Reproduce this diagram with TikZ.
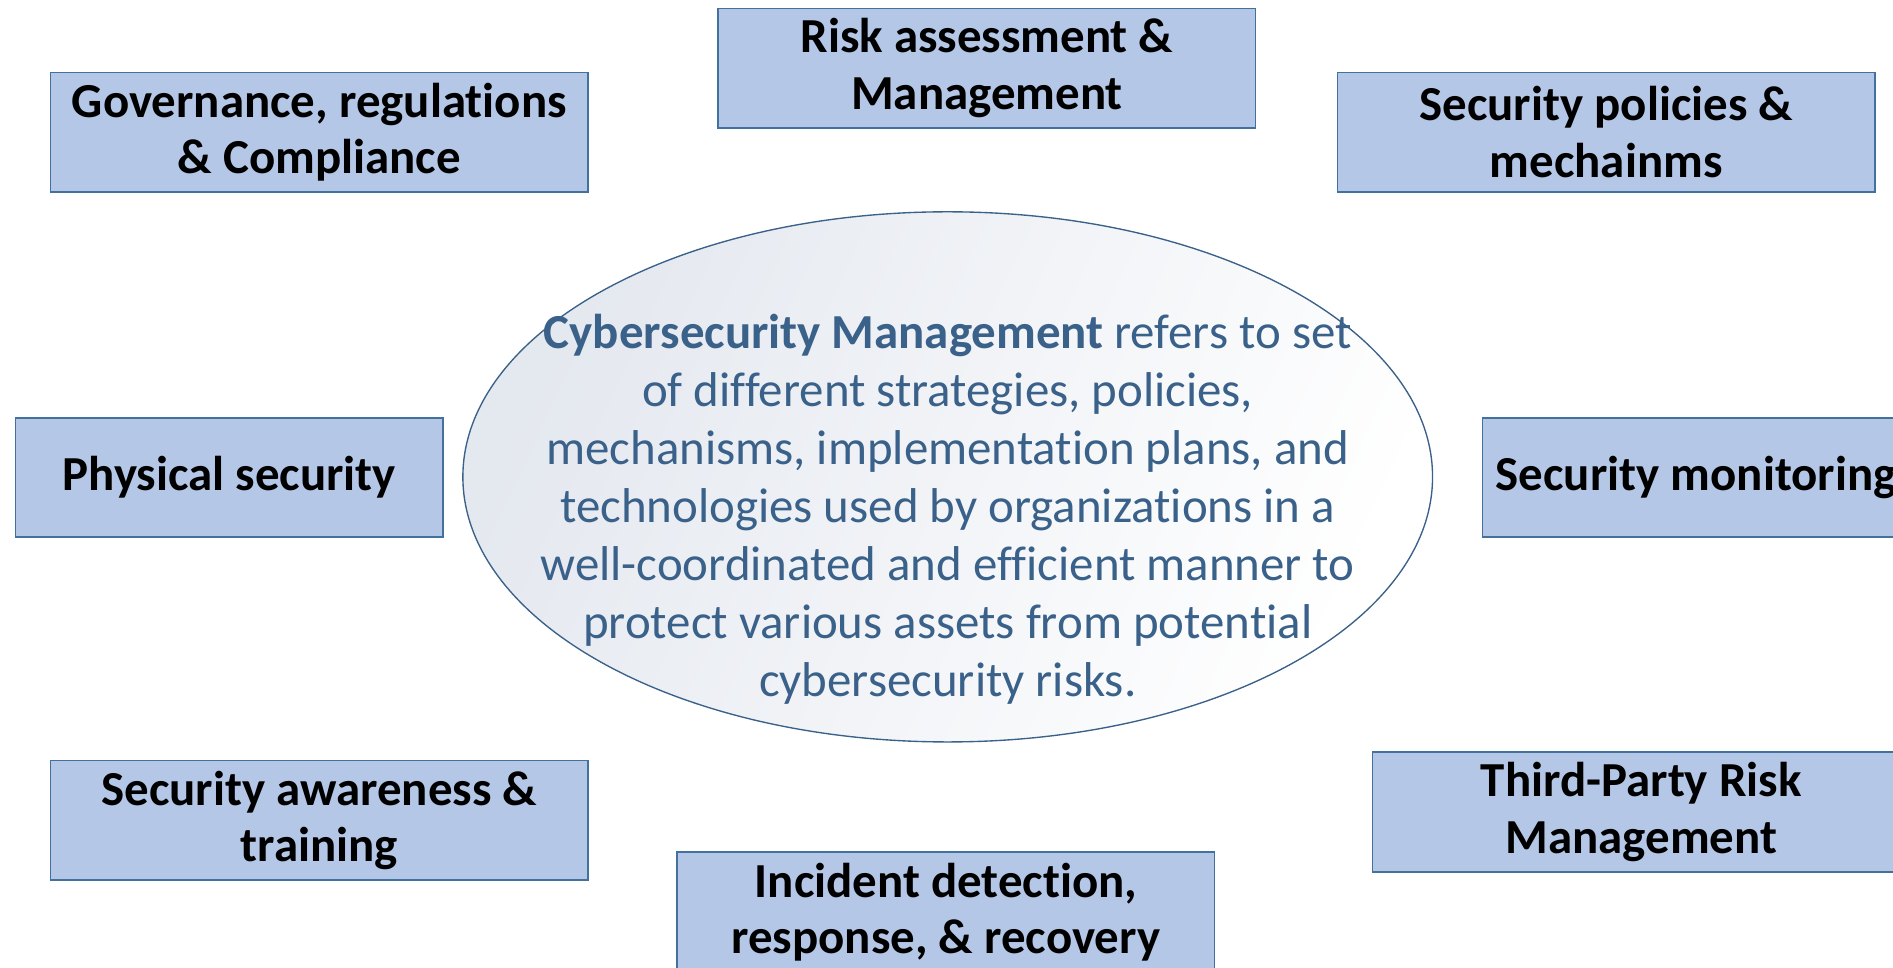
\documentclass[tikz,border=0pt]{standalone}
\usepackage{fontspec}
\setmainfont{Carlito}[Ligatures=NoCommon]
\usepackage{tikz}
\usetikzlibrary{shapes.geometric}

\definecolor{areaFill}{HTML}{B4C7E7}
\definecolor{areaLine}{HTML}{41719C}
\definecolor{coreInk}{HTML}{3A6189}
\definecolor{coreShade}{HTML}{E4E8EF}

\begin{document}
\begin{tikzpicture}[x=0.025cm, y=-0.025cm,
		area/.style={rectangle, draw=areaLine, line width=1pt, fill=areaFill,
			minimum width=11.125cm, minimum height=2.475cm, inner sep=0pt,
			align=center, font=\fontsize{28.8}{33.4}\selectfont\bfseries},
		narrowArea/.style={area, minimum width=8.85cm},
		core/.style={ellipse, draw=coreInk, line width=0.8pt,
			top color=coreShade, bottom color=white, shading angle=65,
			minimum width=20.075cm, minimum height=10.975cm, inner sep=0pt},
		coreLabel/.style={align=center, text=coreInk, inner sep=0pt,
			font=\fontsize{28.8}{34.2}\selectfont}]
	\useasboundingbox (0,0) rectangle (1568,801);
	\clip (0,0) rectangle (1568,801);

	% centre ellipse
	\node[core] (core) at (785,395) {};
	\node[coreLabel] (coreText) at (785,422) {\textbf{Cybersecurity Management} refers to set\\
		of different strategies, policies,\\
		mechanisms, implementation plans, and\\
		technologies used by organizations in a\\
		well-coordinated and efficient manner to\\
		protect various assets from potential\\
		cybersecurity risks.};

	% surrounding areas
	\node[area] (risk) at (817.5,56.5) {Risk assessment \&\\Management};
	\node[area] (gov) at (264.5,109.5) {Governance, regulations\\\& Compliance};
	\node[area] (policy) at (1330.5,109.5) {Security policies \&\\mechainms};
	\node[narrowArea] (phys) at (190,395.5) {Physical security};
	\node[narrowArea] (monitor) at (1405,395.5) {Security monitoring};
	\node[area] (aware) at (264.5,679.5) {Security awareness \&\\training};
	\node[area] (third) at (1359.5,672.5) {Third-Party Risk\\Management};
	\node[area] (incident) at (783.5,755.5) {Incident detection,\\response, \& recovery};
\end{tikzpicture}
\end{document}
